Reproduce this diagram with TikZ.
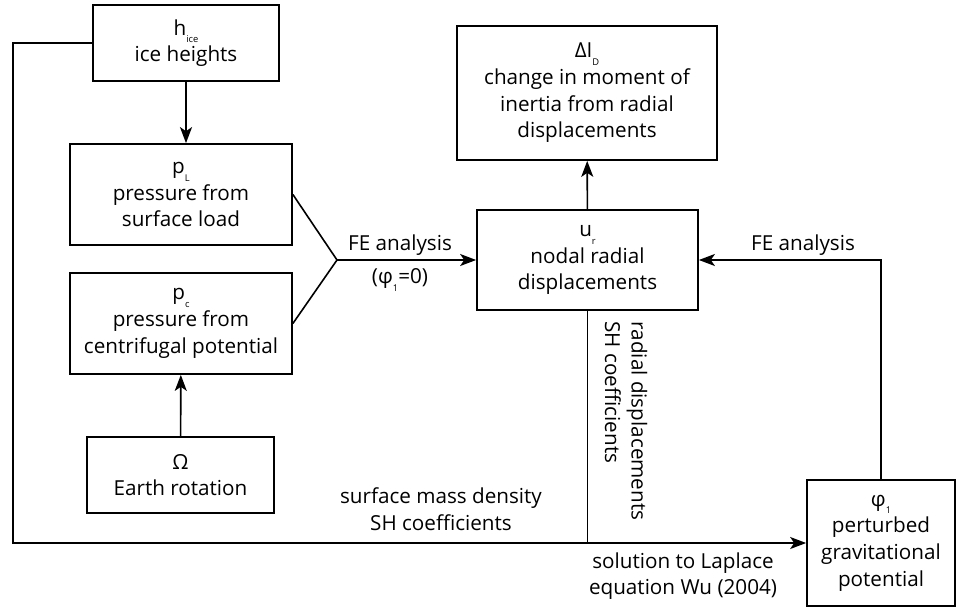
\documentclass[tikz,border=0pt]{standalone}
\usepackage{fontspec}
\setmainfont{Open Sans}
\usepackage{tikz}
\usetikzlibrary{arrows.meta}
\newcommand{\lsub}[1]{\raisebox{-0.7ex}{\fontsize{7}{7}\selectfont #1}}
\tikzset{
  block/.style={draw=black,line width=1.3pt,align=center,inner sep=2pt,
    font=\fontsize{15.5}{20}\selectfont,fill=white},
  link/.style={line width=1.2pt,black},
  flowarc/.style={-{Stealth[length=12pt,width=9pt,inset=3pt]},line width=1.2pt,black},
  arclabel/.style={font=\fontsize{15.5}{20}\selectfont,align=center,inner sep=1pt}
}
\begin{document}
\begin{tikzpicture}[x=0.75pt,y=-0.75pt]
  \useasboundingbox (0,0) rectangle (956,610);
  \node[block,minimum width=139.5pt,minimum height=57pt] (hice) at (186,43) {h\lsub{ice}\\ice heights};
  \node[block,minimum width=166.5pt,minimum height=75.75pt] (pL) at (181,194.5) {p\lsub{L}\\pressure from\\surface load};
  \node[block,minimum width=166.5pt,minimum height=75.75pt] (pc) at (181,323.5) {p\lsub{c}\\pressure from\\centrifugal potential};
  \node[block,minimum width=140pt,minimum height=57pt] (omega) at (180.5,475) {Ω\\Earth rotation};
  \node[block,minimum width=195pt,minimum height=100.5pt] (dI) at (587,93) {ΔI\lsub{D}\\change in moment of\\inertia from radial\\displacements};
  \node[block,minimum width=165.75pt,minimum height=75pt] (ur) at (587.5,260) {u\lsub{r}\\nodal radial\\displacements};
  \node[block,minimum width=111pt,minimum height=94.5pt] (phi) at (881,543) {φ\lsub{1}\\perturbed\\gravitational\\potential};
  \coordinate (jn) at (337,260);
  \coordinate (lc) at (13,543);

  \draw[flowarc] (hice.south) -- (hice.south |- pL.north);
  \draw[flowarc] (omega) -- (pc);
  \draw[link] (pL.east) -- (jn);
  \draw[link] (pc.east) -- (jn);
  \draw[flowarc] (jn) -- (ur.west);
  \draw[flowarc] (ur) -- (dI);
  \draw[flowarc] (phi.north) |- (ur.east);
  \draw[flowarc] (hice.west) -| (lc) -- (phi.west);
  \draw[link] (ur.south) -- (ur.south |- phi.west);

  \node[arclabel] (fe1) at (400,245) {FE analysis};
  \node[arclabel] (fe1b) at (400,280) {(φ\lsub{1}=0)};
  \node[arclabel] (fe2) at (803,245) {FE analysis};
  \node[arclabel] (smd) at (441,509) {surface mass density\\SH coefficients};
  \node[arclabel] (sol) at (683,576) {solution to Laplace\\equation Wu (2004)};
  \node[arclabel,align=left,rotate=-90,anchor=north west] (rd) at (649,320) {radial displacements\\SH coefficients};
\end{tikzpicture}
\end{document}
